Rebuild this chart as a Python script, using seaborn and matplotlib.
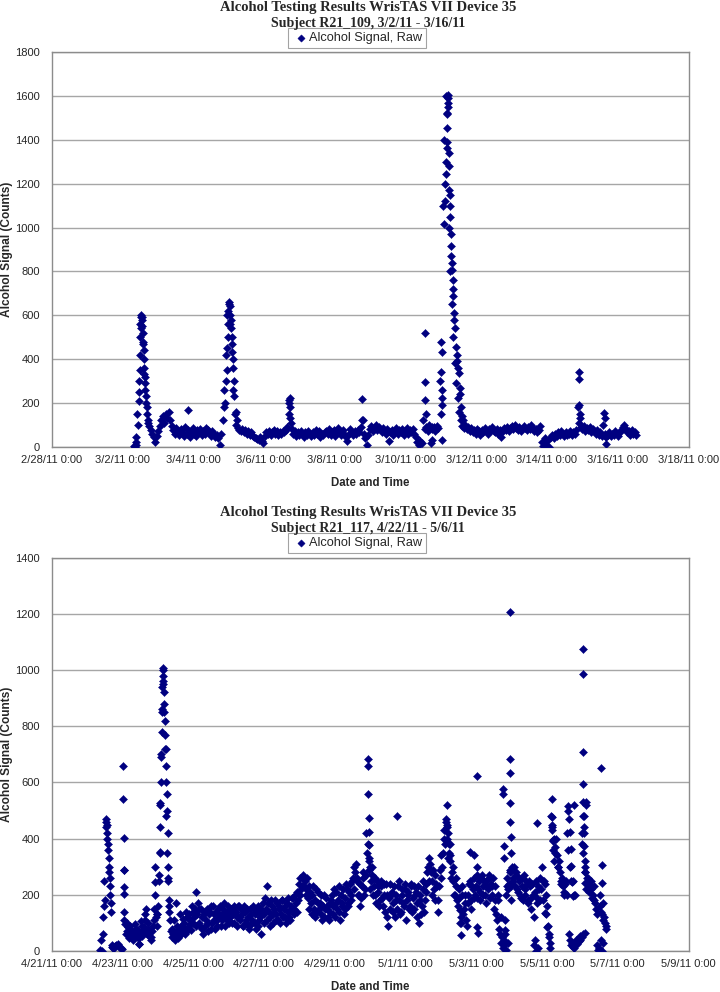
import numpy as np
import pandas as pd
import matplotlib
matplotlib.use("Agg")
import matplotlib.pyplot as plt
import matplotlib.dates as mdates
import seaborn as sns

# ---- Subject R21_109 (hours counted from 3/2/11 0:00) ----
r109_day0 = "2011-03-02"
r109_first_hour = 8.05      # first regular reading
r109_step_minutes = 61      # spacing of the regular readings
r109_regular = [
    5, 45, 150, 300, 560, 590, 470, 320,
    200, 120, 95, 75, 60, 45, 20, 50, 70, 95, 120, 140, 110, 150, 130, 160, 120, 95, 75, 60, 85, 70, 55, 80,
    65, 50, 90, 60, 75, 45, 70, 85, 60, 50, 75, 65, 80, 55, 70, 60, 85, 75, 65, 50, 70, 60, 45, 55,
    40, 10, 60, 120, 260, 420, 600, 650, 560, 430, 260, 150, 100, 85, 75, 70, 80, 65, 75, 60, 70, 55, 65, 50,
    45, 40, 35, 30, 45, 25, 18, 50, 65, 60, 70, 55, 65, 75, 60, 70, 55, 65, 60, 70, 65, 75, 90, 215,
    130, 80, 60, 70, 50, 65, 55, 70, 60, 45, 65, 55, 70, 60, 50, 65, 55, 75, 60, 70, 45, 60, 55, 65,
    70, 60, 80, 55, 65, 75, 50, 70, 85, 65, 55, 75, 60, 45, 25, 60, 80, 65, 55, 70, 60, 75, 65, 90,
    120, 60, 40, 9, 55, 80, 95, 70, 85, 100, 75, 90, 80, 65, 85, 70, 60, 80, 27, 65, 75, 55, 70, 85,
    60, 75, 65, 80, 55, 70, 85, 60, 75, 65, 80, 60, 45, 20, 10, 25, 15, 120, 80, 90, 70, 100, 15, 80,
    90, 70, 95, 85, 300, 480, 1100, 1400, 1600, 1520, 1000, 800, 650, 500, 380, 290, 220, 160, 120, 95, 85, 100, 80, 90,
    70, 85, 65, 75, 60, 80, 70, 55, 75, 65, 85, 70, 60, 80, 75, 90, 70, 65, 80, 60, 75, 45, 70, 85,
    75, 90, 70, 85, 95, 80, 100, 85, 75, 90, 70, 80, 95, 85, 75, 90, 80, 100, 85, 70, 80, 65, 75, 95,
    20, 5, 40, 10, 30, 0, 45, 55, 40, 60, 50, 65, 55, 70, 60, 50, 65, 55, 60, 70, 55, 65, 60, 75,
    180, 110, 90, 80, 95, 70, 85, 75, 90, 65, 80, 70, 60, 75, 55, 65, 50, 100, 60, 45, 55, 65, 50, 60,
    55, 70, 60, 50, 65, 75, 90, 100, 80, 65, 70, 55, 75, 60, 65, 55,
]
# extra readings taken during the drinking episodes
r109_extra_hours = [
    8.6, 9.3, 9.6, 10.6, 11.1, 11.4, 11.7, 11.9, 12.3, 12.5, 12.7, 12.9, 13.4, 13.6, 13.8, 14.0,
    14.4, 14.6, 14.8, 15.0, 15.4, 15.6, 15.8, 16.5, 16.8, 17.7,
    44.7,
    68.7, 69.7, 70.2, 70.7, 71.2, 71.4, 71.6, 71.9, 72.5, 72.8, 73.1, 73.5, 73.8, 74.1, 74.5, 74.8,
    75.1, 75.6, 75.9, 76.8, 77.8,
    112.8, 113.2, 113.5, 113.8, 114.3,
    162.9, 163.1,
    205.4, 205.5, 205.6, 205.8, 210.1, 210.3,
    216.2, 216.4, 216.5, 216.6, 216.7, 216.9, 217.1,
    218.5, 218.8, 219.2, 219.5, 219.7, 219.9, 220.1, 220.3, 220.5, 220.7, 220.8, 221.0, 221.2, 221.4,
    221.6, 221.8, 222.0, 222.2, 222.4, 222.6, 222.8, 223.1, 223.4, 223.7, 224.0, 224.3, 224.6, 224.9,
    225.3, 225.7, 226.3, 226.7, 227.1, 227.6, 228.2, 228.7, 229.2, 229.7, 230.2, 231.2,
    309.5, 309.7, 310.0, 310.2, 310.5,
    327.0, 327.3, 327.6, 327.8,
]
r109_extra_counts = [
    0, 10, 20, 100, 210, 250, 350, 420, 500, 540, 590, 600, 580, 550, 520, 480,
    440, 400, 360, 330, 290, 260, 230, 180, 150, 110,
    168,
    180, 200, 300, 350, 450, 500, 560, 620, 660, 640, 600, 580, 540, 500, 470, 400,
    360, 300, 230, 160, 120,
    150, 200, 222, 180, 110,
    218, 123,
    518, 297, 214, 150, 30, 90,
    150, 342, 432, 32, 259, 222, 190,
    1018, 1123, 1200, 1245, 1300, 1364, 1391, 1455, 1523, 1550, 1570, 1590, 1605, 1340,
    1280, 1170, 1150, 1100, 1050, 972, 915, 870, 840, 805, 760, 720, 688, 610,
    580, 540, 456, 420, 390, 360, 336, 270, 240, 183, 140, 123,
    342, 309, 191, 150, 130,
    155, 130, 50, 14,
]

# ---- Subject R21_117 (hours counted from 4/22/11 0:00) ----
r117_day0 = "2011-04-22"
r117_first_hour = 8.6
r117_step_minutes = 61
r117_regular = [
    5, 40, 120, 250, 440, 400, 330, 230, 15,
    12, 18, 20, 25, 15, 10, 8,
    290,
    95, 70, 85, 60, 75, 55, 70, 80, 50, 26, 65, 90, 70, 110, 150, 80, 55, 40, 70,
    110, 200, 90, 160, 350, 700, 1000, 850, 600, 350, 180, 110,
    80, 60, 40, 170, 75, 55, 90, 70, 100, 60, 120, 85, 110, 75, 140, 120, 210, 130,
    150, 90, 120, 60, 140, 110, 70, 130, 160, 100, 130, 80, 110, 150, 120, 90, 130, 170, 140, 110, 140, 120,
    150, 130, 100, 140, 120, 160, 110, 130, 90, 140, 100, 120, 80, 130, 110, 150, 100, 140, 90, 120, 60, 170, 130,
    150, 230, 140, 120, 160, 100, 180, 130, 110, 160, 130, 180, 150, 120, 170, 140, 110, 160, 190, 150, 170, 210, 240, 260, 230,
    270, 250, 220, 190, 230, 170, 200, 150, 180, 140, 210, 170, 130, 160, 120, 190, 150, 110,
    140, 200, 160, 120, 210, 180, 140, 200, 160, 130, 190, 220, 170, 240, 200, 260, 300, 310, 250, 200, 160, 230, 280, 220, 420,
    380, 290, 250, 270, 230, 200, 250, 210, 180, 230, 160, 200, 240, 120, 190, 150, 210, 170, 120, 200, 230, 180, 140, 200, 160, 220, 180,
    200, 160, 230, 190, 150, 210, 170, 100, 200, 160, 220, 180, 240, 300, 330, 280, 250, 220, 270, 230, 180, 290, 340,
    350, 430, 470, 400, 350, 320, 280, 250, 200, 230, 160, 190, 120, 200, 150, 170, 90,
    200, 250, 180, 220, 260, 230, 190, 250, 210, 270, 230, 200, 250, 220, 260, 240, 200, 150, 230, 110, 180, 60,
    30, 10, 40, 200, 260,
    240, 280, 300, 260, 230, 280, 210, 250, 190, 230, 270, 200, 240, 180, 230, 150, 200, 20, 250, 170, 220,
    260, 300, 180, 240, 130, 90, 50,
    480, 430, 400, 370, 340, 300, 280, 250, 230, 210,
    250, 420, 60, 300, 20, 250, 200, 30, 40, 35, 50, 420, 480, 300, 260, 240, 230, 220,
    200, 180, 150, 20, 10, 160, 130, 110, 100, 90,
]
# second reading between each regular one, from 4/23 2:24 onward
r117_mid_first_hour = 26.4
r117_mid = [
    60, 100, 45, 90, 65, 40, 95, 60, 75, 45, 105, 55, 85, 130, 60, 100, 70, 50, 90,
    150, 120, 130, 250, 520, 850, 950, 720, 480, 260, 140, 70,
    50, 110, 60, 90, 45, 130, 60, 115, 80, 140, 70, 130, 95, 160, 100, 150, 90, 170,
    100, 150, 80, 130, 90, 150, 100, 140, 80, 160, 110, 140, 90, 130, 160, 110, 150, 90, 120, 160, 100, 150,
    100, 160, 130, 90, 160, 120, 150, 90, 160, 110, 150, 90, 150, 100, 160, 130, 80, 160, 110, 150, 130, 100, 190,
    110, 170, 90, 180, 130, 150, 110, 170, 150, 100, 180, 120, 160, 100, 190, 120, 150, 190, 130, 200, 140, 180, 200, 220, 260,
    230, 200, 260, 150, 210, 130, 230, 120, 220, 170, 150, 200, 110, 200, 150, 160, 120, 170,
    180, 130, 220, 170, 150, 230, 110, 170, 220, 150, 240, 160, 210, 180, 250, 220, 280, 260, 200, 240, 190, 260, 200, 270, 350,
    320, 220, 300, 200, 260, 170, 230, 160, 250, 190, 240, 140, 200, 90, 240, 200, 140, 230, 180, 150, 250, 130, 220, 170, 240, 110, 210,
    150, 240, 140, 230, 200, 120, 230, 180, 130, 250, 140, 210, 280, 250, 310, 200, 290, 180, 240, 140, 230, 260, 300,
    400, 380, 450, 330, 380, 260, 300, 200, 260, 180, 220, 100, 230, 130, 200, 110, 170,
    240, 150, 230, 190, 200, 270, 220, 180, 260, 200, 250, 170, 230, 270, 190, 230, 260, 180, 130, 200, 80, 120,
    50, 20, 60, 230, 220,
    290, 230, 250, 300, 270, 220, 260, 200, 260, 180, 220, 250, 170, 250, 190, 240, 120, 210, 190, 230, 180,
    220, 250, 250, 200, 160, 60, 30,
    450, 390, 350, 400, 300, 320, 240, 260, 200, 240,
    200, 360, 40, 250, 15, 200, 40, 25, 45, 40, 380, 350, 280, 220, 260, 210, 250, 190,
    230, 170, 130, 5, 200, 140, 170, 120, 80,
]
r117_extra_hours = [
    10.2, 11.2, 11.9, 12.2, 12.9, 13.2, 13.5, 13.9, 14.2, 14.5, 14.9, 15.2, 15.6, 16.0, 16.3, 16.6, 17.3, 18.3,
    24.7, 24.8, 24.9, 25.0, 25.1, 25.2, 25.3, 25.4,
    35.6,
    46.3, 46.5, 47.3, 49.2, 49.4, 49.6, 49.9, 50.2, 50.4, 50.6, 50.9, 51.1, 51.3, 51.6, 51.9, 52.2,
    52.5, 52.8, 53.2, 53.5, 53.8, 54.1, 54.4, 54.7, 55.0, 55.3, 55.7,
    190.5, 190.6, 190.8, 191.0, 191.2, 191.4, 191.6, 191.8,
    210.2,
    243.5, 244.0, 244.5, 245.0, 245.5, 246.5,
    253.2, 253.5, 253.8,
    259.8, 262.8, 264.4, 264.7, 264.9, 265.2,
    282.2, 282.4, 282.7, 283.0, 283.3, 283.7, 284.2, 285.3,
    286.8, 286.9, 287.0, 287.1, 287.2, 287.3, 287.4, 287.5, 287.6, 287.7,
    303.6, 304.6, 305.1, 305.6,
    310.7, 312.3, 313.8,
    315.3, 315.5, 315.7, 315.9, 316.1, 316.9,
    326.0, 326.5, 327.0, 327.6, 328.1, 328.6, 329.1, 329.6, 330.6,
    328.1, 329.1, 330.1, 331.1, 332.1, 333.7, 334.7, 335.7, 336.7, 337.7,
    336.3, 336.3, 336.3, 336.4, 336.5, 336.7, 336.9, 337.1, 337.3, 337.5, 337.7, 337.9, 338.3, 338.8,
    348.9, 349.0, 349.2, 348.4, 349.5, 350.0, 347.4,
]
r117_extra_counts = [
    0, 60, 160, 180, 460, 470, 420, 450, 380, 360, 300, 280, 260, 200, 170, 140, 20, 10,
    660, 541, 402, 288, 228, 203, 139, 110,
    26,
    246, 299, 130, 270, 353, 442, 525, 602, 691, 780, 860, 940, 1008, 980, 960, 920,
    880, 820, 770, 720, 660, 560, 500, 420, 300, 250, 160,
    683, 660, 558, 474, 424, 376, 330, 300,
    481,
    460, 518, 440, 420, 380, 340,
    146, 100, 57,
    354, 342, 623, 300, 87, 63,
    577, 560, 372, 330, 110, 75, 4, 30,
    1207, 684, 632, 528, 459, 406, 348, 283, 241, 182,
    40, 0, 457, 10,
    134, 87, 10,
    540, 476, 443, 396, 360, 320,
    517, 500, 470, 422, 363, 304, 244, 194, 518,
    20, 30, 10, 25, 40, 45, 55, 50, 60, 65,
    1075, 984, 707, 595, 532, 479, 443, 419, 372, 320, 280, 241, 532, 520,
    650, 306, 241, 40, 0, 30, 5,
]

r109_title = "Subject R21_109, 3/2/11 - 3/16/11"
r117_title = "Subject R21_117, 4/22/11 - 5/6/11"
main_title = "Alcohol Testing Results WrisTAS VII Device 35"
legend_label = "Alcohol Signal, Raw"


def build_frame(day0, first_hour, step_min, regular, extra_hours, extra_counts,
                mid_first=None, mid=()):
    hours = list(first_hour + np.arange(len(regular)) * step_min / 60) + list(extra_hours)
    counts = list(regular) + list(extra_counts)
    if mid_first is not None:
        hours += list(mid_first + np.arange(len(mid)) * step_min / 60)
        counts += list(mid)
    times = pd.Timestamp(day0) + pd.to_timedelta(hours, unit="h")
    return pd.DataFrame({"time": times, "counts": counts}).sort_values("time")


def date_label(x, pos=None):
    d = mdates.num2date(x)
    return f"{d.month}/{d.day}/{d:%y} {d.hour}:{d:%M}"


sns.set_style("white")
plt.rcParams["font.family"] = ["Liberation Sans", "DejaVu Sans"]

W, H = 720, 992
AX_L, AX_W = 51.5, 637
fig = plt.figure(figsize=(W / 100, H / 100), dpi=100)

panels = [
    (build_frame(r109_day0, r109_first_hour, r109_step_minutes, r109_regular,
                 r109_extra_hours, r109_extra_counts),
     r109_title, ("2011-02-28", "2011-03-18"), 1800, 52.3, 446.7),
    (build_frame(r117_day0, r117_first_hour, r117_step_minutes, r117_regular,
                 r117_extra_hours, r117_extra_counts, r117_mid_first_hour, r117_mid),
     r117_title, ("2011-04-21", "2011-05-09"), 1400, 557.6, 951),
]

grey = "#8c8c8c"
navy = "#000080"

for df, subtitle, (x0, x1), ymax, top_px, bot_px in panels:
    h_px = bot_px - top_px
    ax = fig.add_axes([AX_L / W, 1 - bot_px / H, AX_W / W, h_px / H])
    sns.scatterplot(data=df, x="time", y="counts", ax=ax, marker="D", s=17,
                    color=navy, edgecolor=navy, linewidth=0.3,
                    label=legend_label, zorder=3)
    ax.set_xlim(pd.Timestamp(x0), pd.Timestamp(x1))
    ax.set_ylim(0, ymax)
    ax.set_yticks(np.arange(0, ymax + 1, 200))
    ticks = pd.date_range(x0, x1, freq="2D")
    ax.set_xticks(mdates.date2num(ticks))
    ax.xaxis.set_major_formatter(plt.FuncFormatter(date_label))
    ax.yaxis.grid(True, color="#a6a6a6", linewidth=1)
    ax.set_axisbelow(True)
    for sp in ax.spines.values():
        sp.set_color(grey)
        sp.set_linewidth(1)
    ax.tick_params(axis="both", direction="out", length=4, width=1, color=grey,
                   labelsize=8)
    ax.tick_params(axis="x", pad=2)
    ax.tick_params(axis="y", pad=4.5)
    ax.set_xlabel("Date and Time", fontsize=8.3, fontweight="bold", va="center")
    ax.set_ylabel("Alcohol Signal (Counts)", fontsize=8.6, fontweight="bold", va="center")
    ax.xaxis.set_label_coords(0.5, -36 / h_px)
    ax.yaxis.set_label_coords((7.5 - AX_L) / AX_W, 0.5)
    leg = ax.legend(loc="lower center", bbox_to_anchor=((357 - AX_L) / AX_W, 1 + 4.5 / h_px),
                    borderaxespad=0, frameon=True, fancybox=False, edgecolor=grey,
                    fontsize=9.2, handlelength=1.4, handletextpad=-0.1, borderpad=0.3,
                    markerscale=0.9)
    leg.get_frame().set_linewidth(0.8)
    fig.text(368 / W, 1 - (top_px - 44.8) / H, main_title, ha="center", va="center",
             fontsize=10.5, fontweight="bold", family="Liberation Serif")
    fig.text(368 / W, 1 - (top_px - 29.3) / H, subtitle, ha="center", va="center",
             fontsize=10, fontweight="bold", family="Liberation Serif")

fig.savefig("out.png", dpi=100)
